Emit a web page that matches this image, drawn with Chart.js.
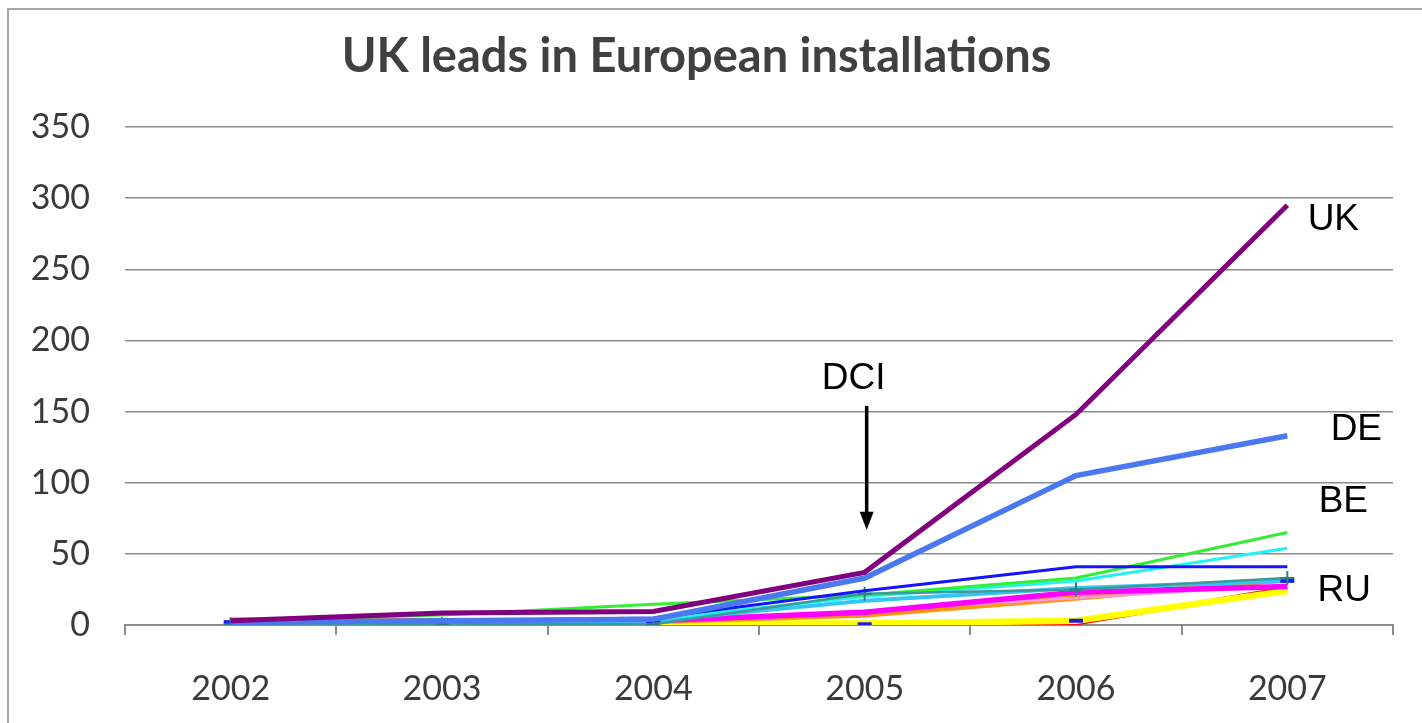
<!DOCTYPE html>
<html>
<head>
<meta charset="utf-8">
<script src="https://cdn.jsdelivr.net/npm/chart.js@4/dist/chart.umd.min.js"></script>
<style>
  html, body { margin: 0; padding: 0; background: #fff; }
  #wrap { position: relative; width: 1422px; height: 723px; overflow: hidden; }
  #frame { position: absolute; left: 7px; top: 8px; right: -10px; bottom: -10px;
           border-top: 2px solid #a6a6a6; border-left: 2px solid #a6a6a6; }
  canvas { position: absolute; left: 0; top: 0; }
</style>
</head>
<body>
<div id="wrap">
  <div id="frame"></div>
  <canvas id="chart" width="1422" height="723"></canvas>
</div>
<script>
var years = ['2002', '2003', '2004', '2005', '2006', '2007'];
var yTicks = [0, 50, 100, 150, 200, 250, 300, 350];

// installations per country
var ukValues      = [3, 8.5, 9.5, 37, 148, 295];
var deValues      = [2, 3, 4, 33, 105, 133];
var blueValues    = [2, 3, 5, 24, 41, 41];
var beValues      = [3, 7, 14.5, 21, 33, 65];
var cyanValues    = [2, 3, 4, 20, 31, 54];
var tealValues    = [0.5, 0.5, 0.5, 22, 25, 33];
var ruValues      = [2, 2, 2, 0.5, 3, 31];
var skyValues     = [2, 2, 3, 17, 26, 31];
var magentaValues = [2, 2, 3, 9, 23, 27];
var pinkValues    = [2, 2, 2.5, 10, 19, 28];
var orangeValues  = [3.5, 3, 2.5, 7, 19, 32];
var yellowValues  = [1, 1, 1, 1, 3, 24];
var redValues     = [0, 0, 0, 0, 1, 26];

var dciYear = 3;
var dciFrom = 154;
var dciTo = 67;

function line(label, data, color, width, extra) {
  var ds = {
    label: label, data: data, borderColor: color, backgroundColor: color,
    borderWidth: width, pointRadius: 0, tension: 0, fill: false
  };
  for (var k in extra) ds[k] = extra[k];
  return ds;
}

var datasets = [
  line('UK', ukValues, '#800080', 5),
  line('DE', deValues, '#4a78f0', 5.5),
  line('blue', blueValues, '#1414ff', 3),
  line('teal', tealValues, '#3c9a9a', 2.5, { pointStyle: 'cross', pointRadius: 7, pointBorderWidth: 2, pointBorderColor: '#2a8080' }),
  line('RU', ruValues, '#1a1aee', 3, { showLine: false, pointStyle: 'line', pointRadius: 7, pointBorderWidth: 4 }),
  line('BE', beValues, '#33ee33', 3),
  line('cyan', cyanValues, '#22f2f2', 3),
  line('sky', skyValues, '#33c6f5', 4),
  line('magenta', magentaValues, '#ff00ff', 5.5),
  line('pink', pinkValues, '#ff99dd', 2.5),
  line('orange', orangeValues, '#ff9612', 5.5),
  line('yellow', yellowValues, '#ffff00', 6.5),
  line('red', redValues, '#ff0000', 4)
];

var notes = [
  { text: 'UK', series: 0, dx: 46, dy: 15 },
  { text: 'DE', series: 1, dx: 69, dy: -6 },
  { text: 'BE', series: 5, dx: 56, dy: -31 },
  { text: 'RU', series: 4, dx: 57, dy: 10 }
];

var annotate = {
  id: 'annotate',
  afterDatasetsDraw: function (chart) {
    var ctx = chart.ctx;
    var xs = chart.scales.x, ys = chart.scales.y;
    var last = years.length - 1;
    ctx.save();
    ctx.fillStyle = '#000';
    ctx.font = '37px "Liberation Sans", Arial, sans-serif';
    ctx.textAlign = 'center';
    ctx.textBaseline = 'middle';
    notes.forEach(function (n) {
      var v = chart.data.datasets[n.series].data[last];
      ctx.fillText(n.text, xs.getPixelForValue(last) + n.dx, ys.getPixelForValue(v) + n.dy);
    });
    // DCI arrow
    var ax = xs.getPixelForValue(dciYear) + 2;
    var y0 = ys.getPixelForValue(dciFrom), y1 = ys.getPixelForValue(dciTo);
    ctx.fillText('DCI', ax - 13, y0 - 27);
    ctx.strokeStyle = '#000';
    ctx.lineWidth = 3.5;
    ctx.beginPath();
    ctx.moveTo(ax, y0);
    ctx.lineTo(ax, y1 - 14);
    ctx.stroke();
    ctx.beginPath();
    ctx.moveTo(ax - 7, y1 - 18);
    ctx.lineTo(ax + 7, y1 - 18);
    ctx.lineTo(ax, y1);
    ctx.closePath();
    ctx.fill();
    ctx.restore();
  }
};

new Chart(document.getElementById('chart'), {
  type: 'line',
  data: { labels: years, datasets: datasets },
  plugins: [annotate],
  options: {
    responsive: false,
    animation: false,
    layout: { padding: { top: 0, right: 29, bottom: 0, left: 0 } },
    scales: {
      x: {
        offset: true,
        grid: { offset: true, drawOnChartArea: false, drawTicks: true, tickLength: 10, color: '#8c8c8c', lineWidth: 2 },
        border: { display: true, color: '#8c8c8c', width: 2 },
        ticks: { color: '#3a3a3a', padding: 34, font: { family: 'Lato', size: 34 } },
        afterFit: function (s) { s.height = 98; }
      },
      y: {
        min: 0, max: 350,
        afterBuildTicks: function (s) { s.ticks = yTicks.map(function (v) { return { value: v }; }); },
        grid: { color: '#8c8c8c', lineWidth: 1.5, drawTicks: false },
        border: { display: false },
        ticks: { color: '#3a3a3a', padding: 35, font: { family: 'Lato', size: 34 } },
        afterFit: function (s) { s.width = 125; }
      }
    },
    plugins: {
      legend: { display: false },
      tooltip: { enabled: false },
      title: {
        display: true,
        text: 'UK leads in European installations',
        color: '#404040',
        font: { family: 'Lato', size: 47, weight: 'bold' },
        padding: { top: 29, bottom: 41.6 }
      }
    }
  }
});
</script>
</body>
</html>
